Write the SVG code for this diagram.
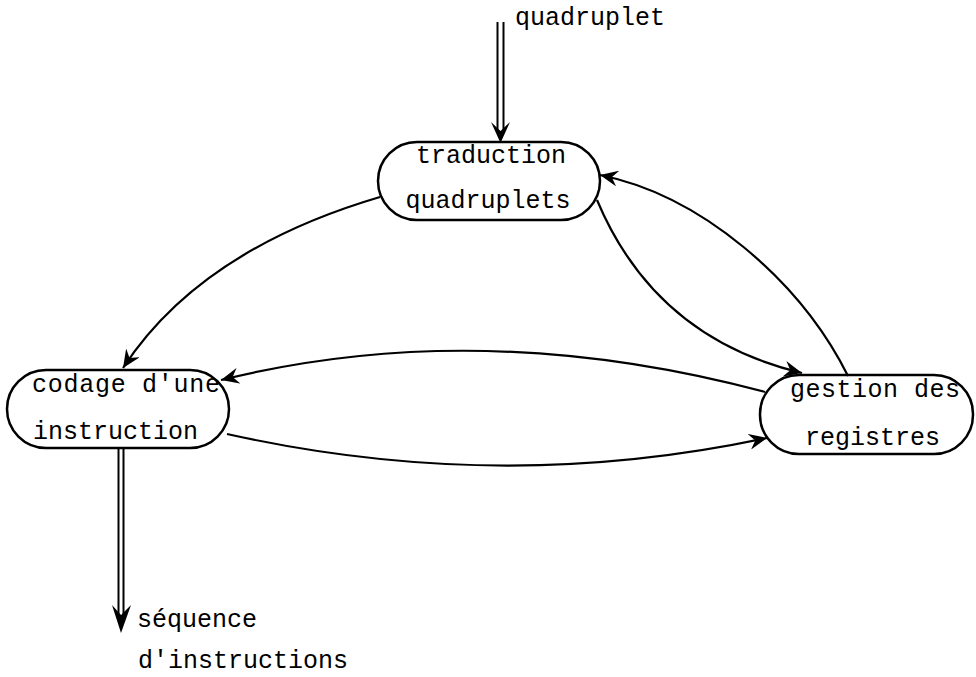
<svg xmlns="http://www.w3.org/2000/svg" width="976" height="677" viewBox="0 0 976 677">
<style>
.node rect{fill:none;stroke:#000;stroke-width:2.5}
text{font-family:"Liberation Mono","DejaVu Sans Mono",monospace;font-size:25px;fill:#000}
.edge{fill:none;stroke:#000;stroke-width:2.2;marker-end:url(#ah)}
.dbl{fill:none;stroke:#000;stroke-width:2}
</style>
<defs>
<marker id="ah" markerWidth="20" markerHeight="16" refX="18" refY="8" orient="auto" markerUnits="userSpaceOnUse">
<path d="M0,0 L18,8 L0,16 L6,8 Z" fill="#000"/>
</marker>
</defs>
<rect width="976" height="677" fill="#fff"/>
<g id="n1" class="node">
<rect x="378" y="142" width="222" height="78" rx="39"/>
<text x="491" y="163" text-anchor="middle">traduction</text>
<text x="488" y="208" text-anchor="middle">quadruplets</text>
</g>
<g id="n2" class="node">
<rect x="7" y="370" width="222" height="78" rx="39"/>
<text x="32" y="392" textLength="188">codage d'une</text>
<text x="33" y="439">instruction</text>
</g>
<g id="n3" class="node">
<rect x="760" y="375" width="213" height="79" rx="39"/>
<text x="790" y="397" textLength="170">gestion des</text>
<text x="805" y="445">registres</text>
</g>
<g id="connectors">
<path class="edge" d="M380,197 Q200,250 123,368"/>
<path class="edge" d="M597,200 Q655,338 802,373"/>
<path class="edge" d="M848,376 C800,280 700,195 600,175"/>
<path class="edge" d="M765,392 Q480,316 221,380"/>
<path class="edge" d="M227,434 Q500,495 767,438"/>
<g id="in">
<line class="dbl" x1="497.5" y1="22" x2="497.5" y2="130"/>
<line class="dbl" x1="503.5" y1="22" x2="503.5" y2="130"/>
<path d="M491,122 L500.5,143 L510,122 L500.5,131 Z" fill="#000"/>
</g>
<g id="out">
<line class="dbl" x1="118.5" y1="448" x2="118.5" y2="618"/>
<line class="dbl" x1="123.5" y1="448" x2="123.5" y2="618"/>
<path d="M112,605 L121,633 L131,605 L121,615 Z" fill="#000"/>
</g>
</g>
<text x="515" y="25">quadruplet</text>
<text x="137" y="627">séquence</text>
<text x="138" y="668">d'instructions</text>
</svg>
